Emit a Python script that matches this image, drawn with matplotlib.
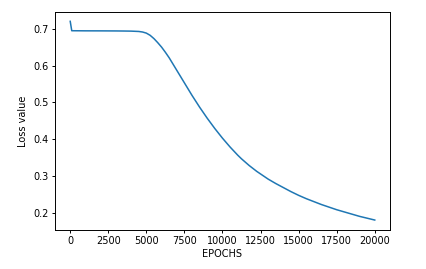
import matplotlib
matplotlib.use("Agg")
import matplotlib.pyplot as plt

epochs = [0, 100, 1000, 2000, 3000, 3500, 4000, 4500, 4750, 5000, 5250, 5500,
          5750, 6000, 6250, 6500, 6750, 7000, 7250, 7500, 7750, 8000, 8250,
          8500, 8750, 9000, 9250, 9500, 9750, 10000, 10250, 10500, 10750,
          11000, 11250, 11500, 11750, 12000, 12250, 12500, 13000, 13500, 14000,
          14500, 15000, 15500, 16000, 16500, 17000, 17500, 18000, 18500, 19000,
          19500, 20000]
loss = [0.720, 0.6945, 0.6942, 0.6941, 0.6939, 0.6937, 0.6934, 0.6925, 0.691,
        0.688, 0.682, 0.673, 0.662, 0.650, 0.636, 0.621, 0.604, 0.587, 0.570,
        0.553, 0.536, 0.519, 0.503, 0.487, 0.472, 0.457, 0.443, 0.429, 0.416,
        0.403, 0.391, 0.379, 0.368, 0.357, 0.347, 0.338, 0.329, 0.321, 0.313,
        0.306, 0.292, 0.280, 0.269, 0.258, 0.248, 0.239, 0.231, 0.223, 0.216,
        0.209, 0.203, 0.197, 0.191, 0.186, 0.181]

plt.rcParams['font.family'] = ['DejaVu Sans']
plt.rcParams['font.size'] = 7

fig = plt.figure(figsize=(4.27, 2.69), dpi=100)
ax = fig.add_axes([0.1288, 0.145, 0.7845, 0.81])
ax.plot(epochs, loss, color='#1f77b4', lw=1.1)
ax.set_xticks([0, 2500, 5000, 7500, 10000, 12500, 15000, 17500, 20000])
ax.set_yticks([0.2, 0.3, 0.4, 0.5, 0.6, 0.7])
ax.set_ylim(0.154, 0.745)
ax.set_xlim(-1000, 21000)
ax.set_xlabel('EPOCHS', labelpad=2)
ax.set_ylabel('Loss value', labelpad=4)
for s in ax.spines.values():
    s.set_linewidth(0.7)
ax.tick_params(width=0.7, length=2.5, pad=2, labelsize=7)
fig.savefig('out.png', dpi=100)
